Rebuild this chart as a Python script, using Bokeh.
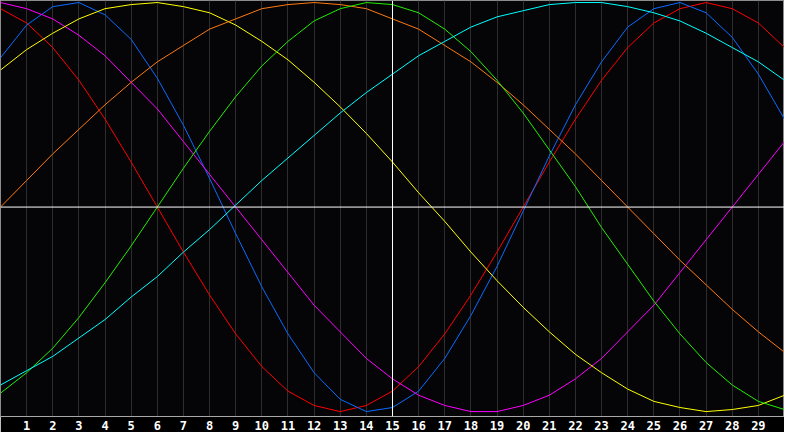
from bokeh.plotting import figure
from bokeh.models import Range1d, FixedTicker, Span
from bokeh.embed import file_html
from bokeh.resources import INLINE

# sample positions along the x axis
x = list(range(0, 31))
ticks = list(range(1, 30))

red = [0.97, 0.90, 0.78, 0.62, 0.43, 0.22, 0.00, -0.22, -0.43, -0.62, -0.78,
       -0.90, -0.97, -1.00, -0.97, -0.90, -0.78, -0.62, -0.43, -0.22, 0.00,
       0.22, 0.43, 0.62, 0.78, 0.90, 0.97, 1.00, 0.97, 0.90, 0.78]
blue = [0.73, 0.89, 0.98, 1.00, 0.94, 0.82, 0.63, 0.40, 0.14, -0.13, -0.39,
        -0.62, -0.81, -0.94, -1.00, -0.98, -0.90, -0.74, -0.53, -0.29, -0.02,
        0.25, 0.50, 0.71, 0.88, 0.97, 1.00, 0.95, 0.83, 0.65, 0.43]
magenta = [1.00, 0.97, 0.92, 0.84, 0.74, 0.61, 0.48, 0.32, 0.16, 0.00, -0.16,
           -0.32, -0.48, -0.61, -0.74, -0.84, -0.92, -0.97, -1.00, -1.00, -0.97,
           -0.92, -0.84, -0.74, -0.61, -0.48, -0.32, -0.16, 0.00, 0.16, 0.32]
yellow = [0.67, 0.77, 0.85, 0.92, 0.97, 0.99, 1.00, 0.98, 0.95, 0.89, 0.81,
          0.72, 0.61, 0.49, 0.36, 0.22, 0.07, -0.07, -0.22, -0.36, -0.49,
          -0.61, -0.72, -0.81, -0.89, -0.95, -0.98, -1.00, -0.99, -0.97, -0.92]
orange = [0.00, 0.13, 0.26, 0.38, 0.50, 0.61, 0.71, 0.79, 0.87, 0.92, 0.97,
          0.99, 1.00, 0.99, 0.97, 0.92, 0.87, 0.79, 0.71, 0.61, 0.50,
          0.38, 0.26, 0.13, 0.00, -0.13, -0.26, -0.38, -0.50, -0.61, -0.71]
green = [-0.91, -0.81, -0.69, -0.54, -0.37, -0.19, 0.00, 0.19, 0.37, 0.54, 0.69,
         0.81, 0.91, 0.97, 1.00, 0.99, 0.95, 0.87, 0.76, 0.62, 0.46,
         0.28, 0.10, -0.10, -0.28, -0.46, -0.62, -0.76, -0.87, -0.95, -0.99]
cyan = [-0.87, -0.80, -0.73, -0.64, -0.55, -0.44, -0.34, -0.22, -0.11, 0.01, 0.13,
        0.24, 0.35, 0.46, 0.56, 0.65, 0.74, 0.81, 0.88, 0.93, 0.96,
        0.99, 1.00, 1.00, 0.98, 0.95, 0.91, 0.85, 0.78, 0.71, 0.62]

series = [
    (red, "#ff0000"),
    (blue, "#0a6cff"),
    (magenta, "#ff00ff"),
    (yellow, "#ffff00"),
    (orange, "#ff7a10"),
    (green, "#22ee00"),
    (cyan, "#00ffff"),
]

p = figure(width=784, height=432, output_backend="svg", toolbar_location=None,
           x_range=Range1d(0, 30), y_range=Range1d(-1.024, 1.01),
           min_border=0, min_border_left=0, min_border_right=0,
           min_border_top=0, min_border_bottom=0)

p.background_fill_color = "#050508"
p.border_fill_color = "#000000"
p.outline_line_color = "#8c8c8c"

p.yaxis.visible = False
p.ygrid.visible = False

p.xaxis.ticker = FixedTicker(ticks=ticks)
p.xgrid.ticker = FixedTicker(ticks=ticks)
p.xgrid.grid_line_color = "#2e2e2e"
p.xaxis.axis_line_color = "#a8a8a8"
p.xaxis.major_tick_in = 0
p.xaxis.major_tick_out = 0
p.xaxis.minor_tick_line_color = None
p.xaxis.major_label_text_color = "#ffffff"
p.xaxis.major_label_text_font = "DejaVu Sans Mono"
p.xaxis.major_label_text_font_style = "bold"
p.xaxis.major_label_text_font_size = "12px"
p.xaxis.major_label_standoff = 4

# white cross-hair at the centre
p.add_layout(Span(location=15, dimension="height", line_color="#ffffff", line_width=1))
p.add_layout(Span(location=0, dimension="width", line_color="#ffffff", line_width=1))

for ys, color in series:
    p.line(x, ys, line_color=color, line_width=1)

open("out.html", "w").write(file_html(p, INLINE))
